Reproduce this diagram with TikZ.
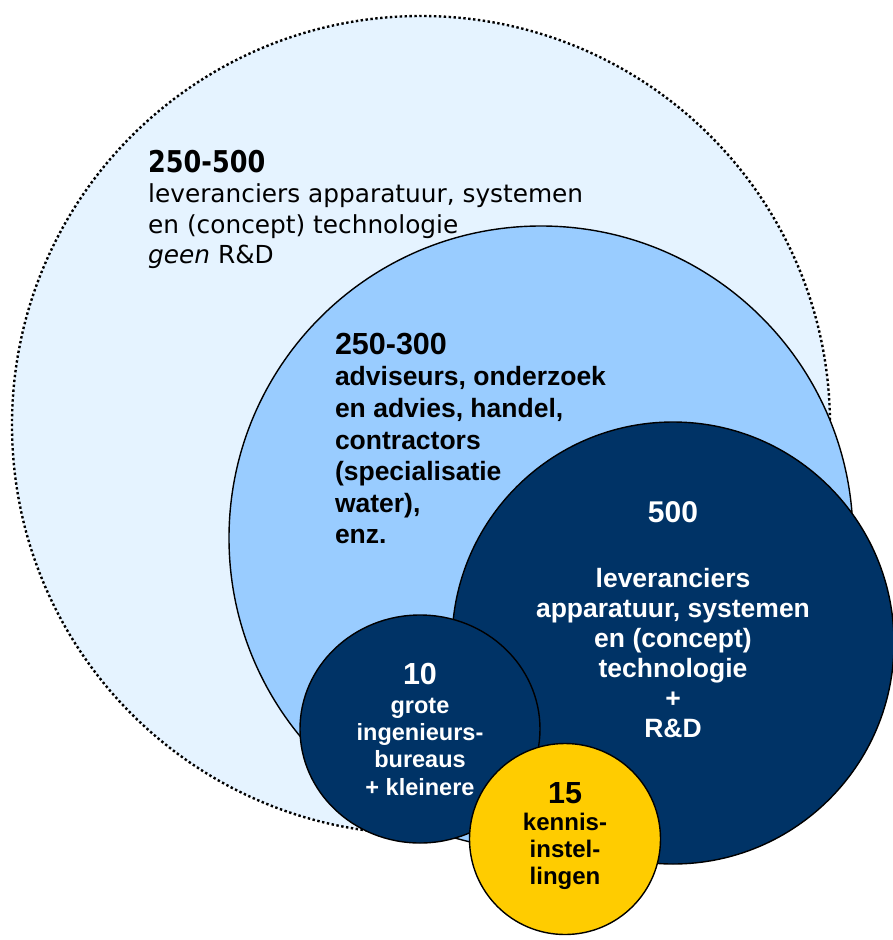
\documentclass[tikz,border=0pt]{standalone}
\usepackage{fontspec}
\setmainfont{Liberation Sans}
\newfontfamily\tahoma{DejaVu Sans}
\newfontfamily\tahomanum[FakeStretch=0.85]{DejaVu Sans}
\definecolor{paleblue}{HTML}{E5F3FF}
\definecolor{midblue}{HTML}{99CCFF}
\definecolor{navy}{HTML}{003366}
\definecolor{gold}{HTML}{FFCC00}

\tikzset{
  disc/.style={draw=black, line width=1.4bp},
  dotring/.style={draw=black, line width=2.4bp, dash pattern=on 2.4bp off 2.5bp},
  blurb/.style={inner sep=0pt, outer sep=0pt, font=\bfseries\fontsize{26.5bp}{31.6bp}\selectfont}
}

\begin{document}
\begin{tikzpicture}[x=1bp,y=-1bp]
  \useasboundingbox (0,0) rectangle (893,940);

  % circles, back to front
  \draw[dotring, fill=paleblue] (421,425) circle[radius=409bp];
  \draw[disc, fill=midblue] (541,538) circle[radius=312bp];
  \draw[disc, fill=navy] (673,643) circle[radius=221bp];
  \draw[disc, fill=navy] (420,729) ellipse[x radius=120bp, y radius=114bp];
  \draw[disc, fill=gold] (565,839) circle[radius=95.5bp];

  % texts
  \node (suppliers) at (148,150) [anchor=north west, align=left, inner sep=0pt,
        font=\tahoma\fontsize{24.8bp}{30.5bp}\selectfont]
        {{\tahomanum\bfseries\fontsize{30bp}{30.5bp}\selectfont 250-500}\\
         leveranciers apparatuur, systemen\\
         en (concept) technologie\\
         \textit{geen} R\&D};
  \node (advisers) at (335,333) [blurb, anchor=north west, align=left]
        {{\fontsize{30.5bp}{31.6bp}\selectfont 250-300}\\
         adviseurs, onderzoek\\
         en advies, handel,\\
         contractors\\
         (specialisatie\\
         water),\\
         enz.};
  \node (rnd) at (673,502) [blurb, anchor=north, align=center, text=white,
        font=\bfseries\fontsize{26.5bp}{30bp}\selectfont]
        {{\fontsize{30bp}{30bp}\selectfont 500}\\[35bp]
         leveranciers\\
         apparatuur, systemen\\
         en (concept)\\
         technologie\\
         +\\
         R\&D};
  \node (bureaus) at (420,663) [blurb, anchor=north, align=center, text=white,
        font=\bfseries\fontsize{23.5bp}{27.3bp}\selectfont]
        {{\fontsize{30.5bp}{27.3bp}\selectfont 10}\\[1.7bp]
         grote\\
         ingenieurs-\\
         bureaus\\
         + kleinere};
  \node (institutes) at (565,783) [blurb, anchor=north, align=center,
        font=\bfseries\fontsize{24bp}{27bp}\selectfont]
        {{\fontsize{30.5bp}{27bp}\selectfont 15}\\
         kennis-\\
         instel-\\
         lingen};
\end{tikzpicture}
\end{document}
